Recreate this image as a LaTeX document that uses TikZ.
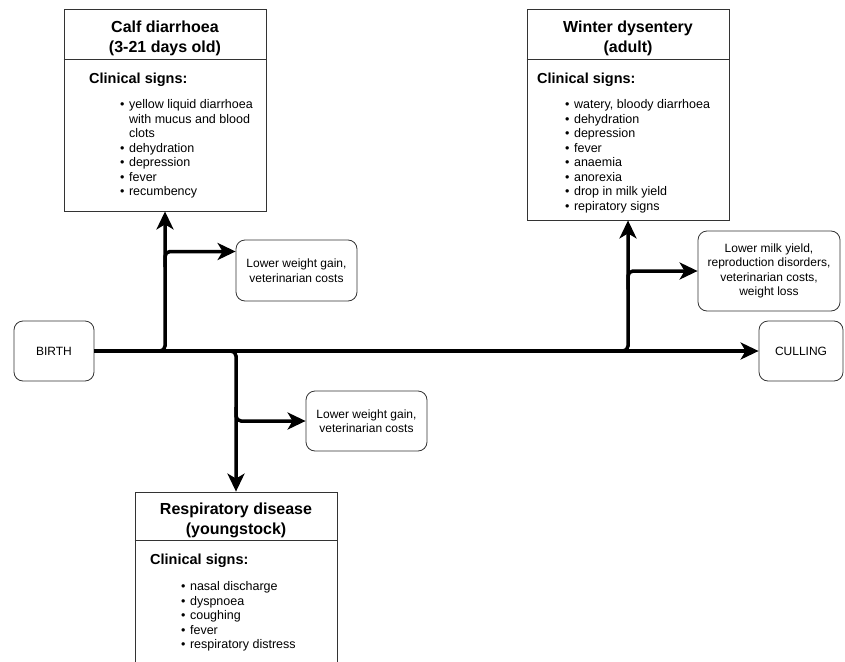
\documentclass[tikz,border=0pt]{standalone}
\usepackage{fontspec}
\setmainfont{Liberation Sans}
\usepackage{xcolor}
\definecolor{Frame}{HTML}{333333}
\colorlet{frame}{Frame}
\usetikzlibrary{arrows.meta,positioning,calc}
\newcommand{\signlines}[1]{\begin{tabular}[t]{@{}l@{\hspace{4.5pt}}l@{}}#1\end{tabular}}

\begin{document}
\begin{tikzpicture}[x=1pt,y=-1pt,every node/.style={inner sep=0pt},
  disease/.style={draw=frame,line width=0.8pt,minimum width=202pt},
  event/.style={draw=frame,line width=0.8pt,rounded corners=9pt,align=center,font=\fontsize{12}{14.5}\selectfont},
  heading/.style={font=\fontsize{16}{20}\selectfont\bfseries,align=center},
  signhead/.style={anchor=base west,font=\fontsize{14.5}{17}\selectfont\bfseries},
  signlist/.style={anchor=base west,font=\fontsize{12.5}{14.5}\selectfont},
  flow/.style={line width=3.5pt,rounded corners=5pt,-{Stealth[length=18pt,width=17pt,inset=5pt]}}]
\useasboundingbox (0,0) rectangle (845,661);
\clip (0,0) rectangle (845,661);
% life line
\node[event,minimum width=80pt,minimum height=60pt] (birth) at (54,351) {BIRTH};
\node[event,minimum width=84pt,minimum height=60pt] (culling) at (801,351) {CULLING};
\node[event,minimum width=121pt,minimum height=61pt] (calfloss) at (296.5,270.5) {Lower weight gain,\\veterinarian costs};
\node[event,minimum width=121pt,minimum height=60pt] (resploss) at (366.5,421) {Lower weight gain,\\veterinarian costs};
\node[event,minimum width=142pt,minimum height=80pt] (winterloss) at (769,271) {Lower milk yield,\\reproduction disorders,\\veterinarian costs,\\weight loss};
% disease boxes
\node[disease,minimum height=202pt] (calf) at (165,110) {};
\node[disease,minimum height=211pt] (winter) at (628,114.5) {};
\node[disease,minimum height=208pt] (resp) at (236,596) {};
\draw[frame,line width=0.8pt] ([yshift=-51pt]calf.north west) -- ([yshift=-51pt]calf.north east);
\draw[frame,line width=0.8pt] ([yshift=-51pt]winter.north west) -- ([yshift=-51pt]winter.north east);
\draw[frame,line width=0.8pt] ([yshift=-49pt]resp.north west) -- ([yshift=-49pt]resp.north east);
\node[heading] (calftitle) at (165,38.5) {Calf diarrhoea\\(3-21 days old)};
\node[heading] (wintertitle) at (628,38.5) {Winter dysentery\\(adult)};
\node[heading] (resptitle) at (236,520.5) {Respiratory disease\\(youngstock)};
\node[signhead] (calfhead) at (89,83) {Clinical signs:};
\node[signhead] (winterhead) at (537,83) {Clinical signs:};
\node[signhead] (resphead) at (150,564) {Clinical signs:};
\node[signlist] (calfsigns) at (120,108.5) {\signlines{\textbullet & yellow liquid diarrhoea\\ & with mucus and blood\\ & clots\\ \textbullet & dehydration\\ \textbullet & depression\\ \textbullet & fever\\ \textbullet & recumbency}};
\node[signlist] (wintersigns) at (565,108.5) {\signlines{\textbullet & watery, bloody diarrhoea\\ \textbullet & dehydration\\ \textbullet & depression\\ \textbullet & fever\\ \textbullet & anaemia\\ \textbullet & anorexia\\ \textbullet & drop in milk yield\\ \textbullet & repiratory signs}};
\node[signlist] (respsigns) at (181,590.5) {\signlines{\textbullet & nasal discharge\\ \textbullet & dyspnoea\\ \textbullet & coughing\\ \textbullet & fever\\ \textbullet & respiratory distress}};
% connectors
\coordinate (calfsplit) at ($(calf.south)!0.4!(calf.south |- birth.east)$);
\coordinate (wintersplit) at ($(winter.south)!0.53!(winter.south |- birth.east)$);
\coordinate (respsplit) at ($(resp.north)!0.6!(resp.north |- birth.east)$);
\draw[flow] (birth) -- (culling);
\draw[flow] (birth.east) -| (calf.south);\draw[flow] (birth.east) -| (winter.south);\draw[flow] (birth.east) -| (resp.north);
\draw[flow] (calfsplit) |- ([yshift=19pt]calfloss.west);
\draw[flow] (wintersplit) |- (winterloss.west);
\draw[flow] (respsplit) |- (resploss.west);
\end{tikzpicture}
\end{document}
